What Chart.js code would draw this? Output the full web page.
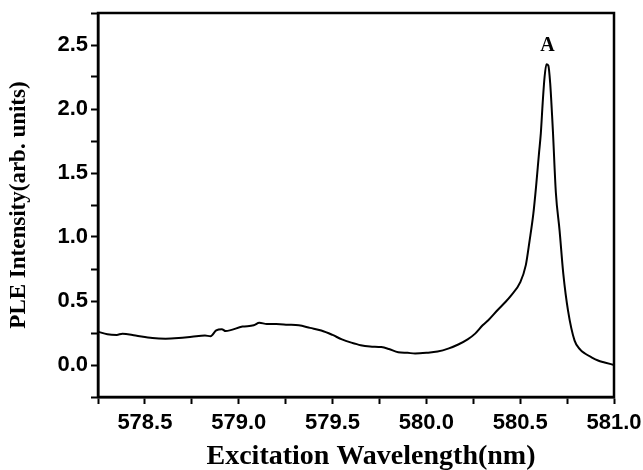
<!DOCTYPE html>
<html>
<head>
<meta charset="utf-8">
<script src="https://cdn.jsdelivr.net/npm/chart.js@4.4.1/dist/chart.umd.min.js"></script>
<style>
  html, body { margin: 0; padding: 0; background: #fff; }
  #wrap { width: 643px; height: 470px; }
</style>
</head>
<body>
<div id="wrap"><canvas id="pleChart"></canvas></div>
<script>
// Excitation wavelength (nm) and PLE intensity
const wavelength = [578.25, 578.30, 578.35, 578.38, 578.45, 578.54, 578.61, 578.68, 578.75, 578.82,
  578.85, 578.88, 578.91, 578.93, 579.02, 579.08, 579.11, 579.15, 579.20, 579.26,
  579.32, 579.38, 579.44, 579.50, 579.55, 579.60, 579.65, 579.70, 579.76, 579.80,
  579.85, 579.90, 579.94, 580.00, 580.06, 580.12, 580.17, 580.22, 580.26, 580.30,
  580.33, 580.38, 580.42, 580.45, 580.50, 580.53, 580.55, 580.57, 580.585, 580.60,
  580.61, 580.62, 580.63, 580.64, 580.65, 580.66, 580.67, 580.675, 580.69, 580.71,
  580.73, 580.755, 580.79, 580.82, 580.845, 580.88, 580.915, 580.95, 581.00];
const intensity = [0.26, 0.24, 0.235, 0.245, 0.23, 0.21, 0.205, 0.21, 0.22, 0.23,
  0.225, 0.27, 0.28, 0.265, 0.30, 0.31, 0.33, 0.32, 0.32, 0.315,
  0.31, 0.29, 0.27, 0.235, 0.20, 0.175, 0.155, 0.145, 0.14, 0.125,
  0.10, 0.095, 0.09, 0.095, 0.105, 0.13, 0.16, 0.20, 0.245, 0.31,
  0.35, 0.43, 0.49, 0.54, 0.645, 0.78, 0.97, 1.18, 1.40, 1.65,
  1.81, 2.05, 2.25, 2.35, 2.34, 2.20, 1.95, 1.81, 1.35, 1.05,
  0.71, 0.425, 0.19, 0.12, 0.09, 0.06, 0.035, 0.02, 0.0];
const peakLabel = 'A';
const xTitle = 'Excitation Wavelength(nm)';

const points = wavelength.map((w, i) => ({ x: w, y: intensity[i] }));
const isMajor = v => Math.abs(v * 2 - Math.round(v * 2)) < 1e-6;
const serif = '"Liberation Serif", "Times New Roman", serif';

// frame on top/right, x title (sits a bit right of centre) and the peak label
const extras = {
  id: 'extras',
  afterDraw(chart) {
    const { ctx, chartArea: a, scales } = chart;
    ctx.save();
    ctx.strokeStyle = '#000';
    ctx.lineWidth = 2.5;
    ctx.strokeRect(a.left, a.top, a.right - a.left, a.bottom - a.top);
    ctx.fillStyle = '#000';
    ctx.textAlign = 'center';
    ctx.textBaseline = 'alphabetic';
    ctx.font = 'bold 28px ' + serif;
    ctx.fillText(xTitle, (a.left + a.right) / 2 + 15, a.bottom + 67);
    let k = 0;
    intensity.forEach((v, i) => { if (v > intensity[k]) k = i; });
    ctx.font = 'bold 20px ' + serif;
    ctx.textBaseline = 'middle';
    ctx.fillText(peakLabel, scales.x.getPixelForValue(wavelength[k]) + 1, scales.y.getPixelForValue(intensity[k]) - 18);
    ctx.restore();
  }
};

const ctx = document.getElementById('pleChart').getContext('2d');
new Chart(ctx, {
  type: 'line',
  data: {
    datasets: [{
      data: points,
      borderColor: '#000',
      borderWidth: 2,
      pointRadius: 0,
      fill: false,
      cubicInterpolationMode: 'monotone'
    }]
  },
  options: {
    responsive: true,
    maintainAspectRatio: false,
    animation: false,
    layout: { padding: { top: 13, right: 29, left: 0, bottom: 0 } },
    plugins: { legend: { display: false }, tooltip: { enabled: false } },
    scales: {
      x: {
        type: 'linear',
        min: 578.25,
        max: 581.0,
        afterFit: s => { s.height = 73; s.paddingLeft = 0; s.paddingRight = 0; },
        border: { display: true, color: '#000', width: 2.5 },
        grid: { drawOnChartArea: false, color: '#000', tickLength: 7, tickWidth: 2 },
        ticks: {
          stepSize: 0.25,
          padding: 6,
          color: '#000',
          maxRotation: 0,
          autoSkip: false,
          font: { family: '"Liberation Sans", Arial, sans-serif', size: 22, weight: 'bold' },
          callback: v => isMajor(v) ? v.toFixed(1) : ''
        }
      },
      y: {
        min: -0.25,
        max: 2.75,
        afterFit: s => { s.width = 98; s.paddingTop = 0; s.paddingBottom = 0; },
        border: { display: true, color: '#000', width: 2.5 },
        grid: { drawOnChartArea: false, color: '#000', tickLength: 7, tickWidth: 2 },
        ticks: {
          stepSize: 0.25,
          padding: 3,
          color: '#000',
          autoSkip: false,
          font: { family: '"Liberation Sans", Arial, sans-serif', size: 22, weight: 'bold' },
          callback: v => isMajor(v) ? v.toFixed(1) : ''
        },
        title: {
          display: true,
          text: 'PLE Intensity(arb. units)',
          color: '#000',
          padding: { top: 5, bottom: 0 },
          font: { family: serif, size: 23, weight: 'bold' }
        }
      }
    }
  },
  plugins: [extras]
});
</script>
</body>
</html>
